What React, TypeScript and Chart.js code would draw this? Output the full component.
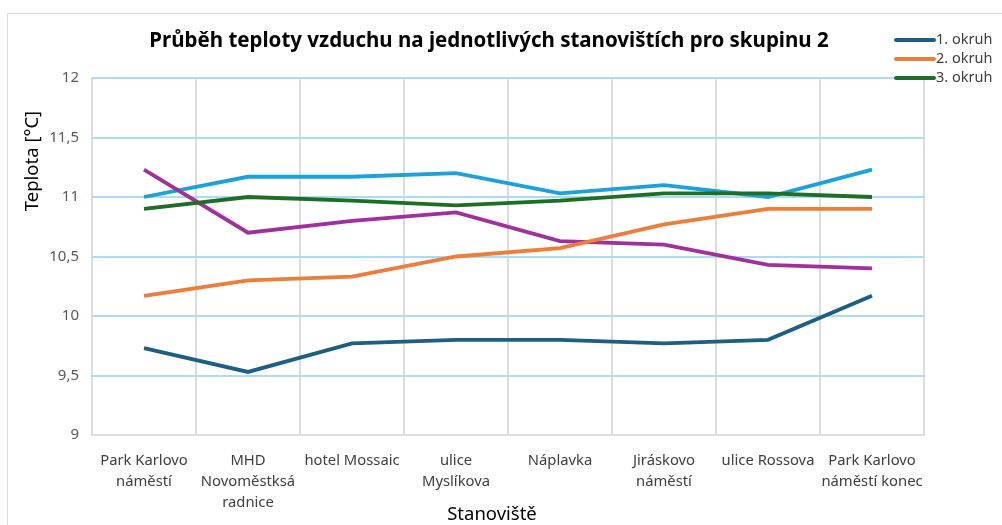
import React, { useEffect, useRef } from "react";
import { Chart, registerables } from "chart.js";

Chart.register(...registerables);

const categories: string[][] = [
  ["Park Karlovo", "náměstí"],
  ["MHD", "Novoměstksá", "radnice"],
  ["hotel Mossaic"],
  ["ulice", "Myslíkova"],
  ["Náplavka"],
  ["Jiráskovo", "náměstí"],
  ["ulice Rossova"],
  ["Park Karlovo", "náměstí konec"],
];

const okruh1 = [9.73, 9.53, 9.77, 9.8, 9.8, 9.77, 9.8, 10.17];
const okruh2 = [10.17, 10.3, 10.33, 10.5, 10.57, 10.77, 10.9, 10.9];
const okruh3 = [10.9, 11.0, 10.97, 10.93, 10.97, 11.03, 11.03, 11.0];
const series4 = [11.23, 10.7, 10.8, 10.87, 10.63, 10.6, 10.43, 10.4];
const series5 = [11.0, 11.17, 11.17, 11.2, 11.03, 11.1, 11.0, 11.23];

const seriesLabels = ["1. okruh", "2. okruh", "3. okruh", "", ""];
const seriesColors = ["#1d5f82", "#ee7d3a", "#1e6e25", "#a0319a", "#1ba1db"];
const legendCount = 3;

const yMin = 9;
const yMax = 12;
const yStep = 0.5;

const titleText = "Průběh teploty vzduchu na jednotlivých stanovištích pro skupinu 2";
const yTitleText = "Teplota [°C]";
const xTitleText = "Stanoviště";

const FONT = "'Noto Sans', 'Open Sans', sans-serif";

const decorPlugin = {
  id: "decor",
  beforeDraw(chart: any) {
    const ctx = chart.ctx;
    ctx.save();
    ctx.fillStyle = "#ffffff";
    ctx.fillRect(0, 0, chart.width, chart.height);
    ctx.strokeStyle = "#d9d9d9";
    ctx.lineWidth = 1;
    ctx.strokeRect(7.5, 13.5, 1200, 700);
    ctx.restore();
  },
  afterDraw(chart: any) {
    const ctx = chart.ctx;
    const area = chart.chartArea;
    ctx.save();
    // title
    ctx.fillStyle = "#000000";
    ctx.font = `bold 20.5px ${FONT}`;
    ctx.textAlign = "center";
    ctx.textBaseline = "middle";
    ctx.fillText(titleText, 489, 41);
    // x title
    ctx.font = `18.5px ${FONT}`;
    ctx.fillStyle = "#000000";
    ctx.fillText(xTitleText, 492, area.bottom + 80);
    // y title
    ctx.save();
    ctx.translate(33, area.top + 83);
    ctx.rotate(-Math.PI / 2);
    ctx.font = `18.5px ${FONT}`;
    ctx.fillText(yTitleText, 0, 0);
    ctx.restore();
    // legend
    ctx.font = `14.5px ${FONT}`;
    ctx.textAlign = "left";
    ctx.fillStyle = "#404040";
    for (let i = 0; i < legendCount; i++) {
      const ds = chart.data.datasets[i];
      const y = 40 + i * 19;
      ctx.strokeStyle = ds.borderColor;
      ctx.lineWidth = 4;
      ctx.lineCap = "round";
      ctx.beginPath();
      ctx.moveTo(896, y);
      ctx.lineTo(934, y);
      ctx.stroke();
      ctx.fillText(ds.label, 936, y);
    }
    ctx.restore();
  },
};

export default function App() {
  const canvasRef = useRef<HTMLCanvasElement | null>(null);

  useEffect(() => {
    if (!canvasRef.current) return;
    const allData = [okruh1, okruh2, okruh3, series4, series5];
    const chart = new Chart(canvasRef.current, {
      type: "line",
      data: {
        labels: categories,
        datasets: allData.map((d, i) => ({
          label: seriesLabels[i],
          data: d,
          borderColor: seriesColors[i],
          backgroundColor: seriesColors[i],
          borderWidth: 3.8,
          pointRadius: 0,
          tension: 0,
          fill: false,
        })),
      },
      options: {
        animation: false,
        responsive: false,
        maintainAspectRatio: false,
        layout: { padding: { left: 0, right: 78, top: 78, bottom: 0 } },
        plugins: {
          legend: { display: false },
          title: { display: false },
          tooltip: { enabled: false },
        },
        scales: {
          x: {
            type: "category",
            offset: true,
            grid: { display: true, offset: true, color: "#dcdcdc", lineWidth: 2, drawTicks: false },
            border: { display: true, color: "#dcdcdc", width: 2 },
            ticks: {
              color: "#404040",
              font: { family: FONT, size: 14.8, lineHeight: 1.42 },
              padding: 15,
              maxRotation: 0,
              minRotation: 0,
              autoSkip: false,
            },
            afterFit(scale: any) {
              scale.height = 90;
            },
          },
          y: {
            min: yMin,
            max: yMax,
            ticks: {
              stepSize: yStep,
              color: "#595959",
              font: { family: FONT, size: 15 },
              padding: 13,
              callback: (v: any) => String(v).replace(".", ","),
            },
            grid: { color: "#acdcf2", lineWidth: 2, drawTicks: false },
            border: { display: false },
            afterFit(scale: any) {
              scale.width = 92;
            },
          },
        },
      },
      plugins: [decorPlugin],
    });
    return () => chart.destroy();
  }, []);

  return (
    <div style={{ position: "fixed", left: 0, top: 0, width: 1002, height: 525, overflow: "hidden", background: "#fff" }}>
      <canvas ref={canvasRef} width={1002} height={525} style={{ width: 1002, height: 525, display: "block" }} />
    </div>
  );
}
